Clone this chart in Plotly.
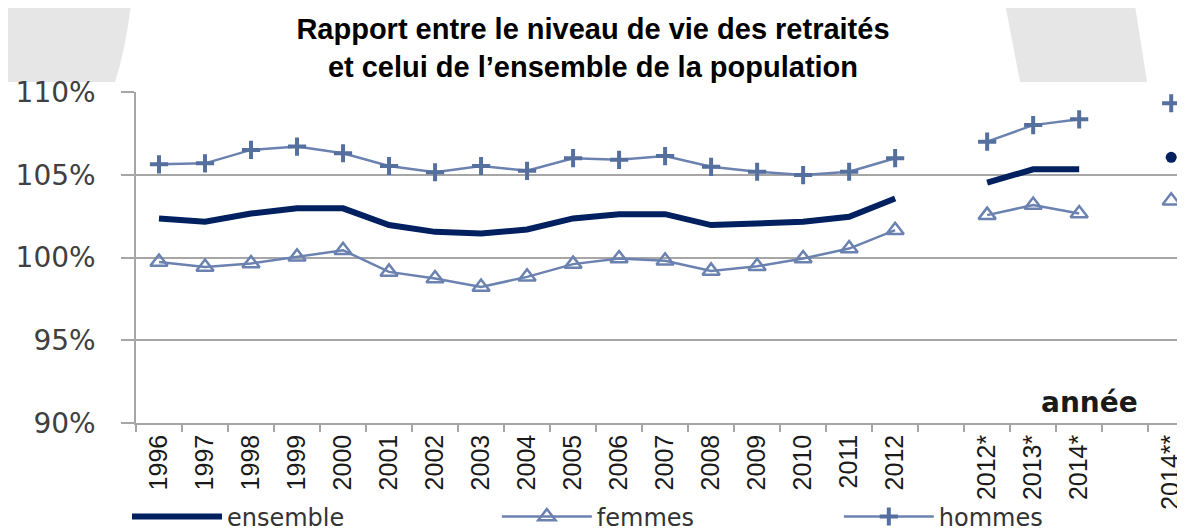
import plotly.graph_objects as go

# categories along x (empty strings are the gaps between the series blocks)
years = ["1996", "1997", "1998", "1999", "2000", "2001", "2002", "2003", "2004",
         "2005", "2006", "2007", "2008", "2009", "2010", "2011", "2012",
         "", "2012*", "2013*", "2014*", "", "2014**"]

ensemble = [102.36, 102.16, 102.66, 102.97, 102.97, 101.96, 101.55, 101.45, 101.69,
            102.36, 102.62, 102.62, 101.96, 102.06, 102.16, 102.46, 103.57,
            None, 104.52, 105.33, 105.33, None, None]
ensemble_2014bis = [None] * 22 + [106.05]
femmes = [99.73, 99.43, 99.64, 100.04, 100.44, 99.13, 98.73, 98.22, 98.83,
          99.60, 99.94, 99.80, 99.19, 99.47, 99.94, 100.54, 101.65,
          None, 102.56, 103.17, 102.66, None, 103.43]
hommes = [105.63, 105.69, 106.50, 106.70, 106.30, 105.53, 105.15, 105.53, 105.24,
          106.00, 105.90, 106.13, 105.48, 105.18, 104.98, 105.18, 106.00,
          None, 107.00, 108.00, 108.35, None, 109.32]

y_ticks = [90, 95, 100, 105, 110]
y_labels = [f"{v}%" for v in y_ticks]

xpos = list(range(len(years)))

NAVY = "#002060"
BLUE = "#6b82b0"
BLUE2 = "#55709f"
GRID = "#a6a6a6"

fig = go.Figure()
fig.add_trace(go.Scatter(
    x=xpos, y=ensemble, name="ensemble", mode="lines", legend="legend",
    line=dict(color=NAVY, width=6), connectgaps=False
))
fig.add_trace(go.Scatter(
    x=xpos, y=ensemble_2014bis, name="ensemble", mode="markers", showlegend=False,
    marker=dict(color=NAVY, size=11, symbol="circle")
))
fig.add_trace(go.Scatter(
    x=xpos, y=femmes, name="femmes", mode="lines+markers", legend="legend2",
    line=dict(color=BLUE, width=2.5), connectgaps=False,
    marker=dict(symbol="triangle-up-open", size=15, color=BLUE, line=dict(width=2.5, color=BLUE))
))
fig.add_trace(go.Scatter(
    x=xpos, y=hommes, name="hommes", mode="lines+markers", legend="legend3",
    line=dict(color=BLUE, width=2.5), connectgaps=False,
    marker=dict(symbol="cross-thin", size=13, color=BLUE2, line=dict(width=4, color=BLUE2))
))

# grey watermark pieces behind the title
fig.add_shape(type="path", xref="paper", yref="paper", layer="below",
              path="M -0.15 1.3 L -0.0038 1.3 Q -0.008 1.15 -0.02 1.03 L -0.15 1.03 Z",
              fillcolor="#e6e6e6", line=dict(width=0))
fig.add_shape(type="path", xref="paper", yref="paper", layer="below",
              path="M 0.8265 1.3 L 0.9504 1.3 L 0.9638 1.03 L 0.8427 1.03 Z",
              fillcolor="#e6e6e6", line=dict(width=0))

fig.add_annotation(
    text="<b>année</b>", x=0.909, y=0.063, xref="paper", yref="paper",
    xanchor="center", yanchor="middle",
    showarrow=False, font=dict(family="DejaVu Sans", size=28, color="#1a1a1a")
)

leg_common = dict(
    orientation="h", xanchor="left", yref="container", y=0.027, yanchor="middle",
    font=dict(family="DejaVu Sans", size=24, color="#333333"),
    itemwidth=90, bgcolor="rgba(0,0,0,0)"
)

fig.update_layout(
    title=dict(
        text="<b>Rapport entre le niveau de vie des retraités<br>et celui de l’ensemble de la population</b>",
        x=0.497, xref="container", xanchor="center",
        y=0.9407, yref="container", yanchor="top",
        font=dict(family="Liberation Sans", size=29, color="black")
    ),
    width=1177, height=523,
    margin=dict(l=128, r=0, t=84, b=108),
    plot_bgcolor="white", paper_bgcolor="white",
    showlegend=True,
    legend=dict(x=-0.0086, **leg_common),
    legend2=dict(x=0.344, **leg_common),
    legend3=dict(x=0.670, **leg_common),
    xaxis=dict(
        range=[-0.5, 22.3], tickmode="array", tickvals=xpos, ticktext=years,
        tickangle=-90, ticks="", showgrid=False, zeroline=False, automargin=False,
        showline=True, linecolor=GRID, linewidth=1.5,
        tickfont=dict(family="Liberation Sans", size=25, color="#1a1a1a"),
        minor=dict(tickmode="linear", tick0=0.5, dtick=1, ticks="outside",
                   ticklen=7, tickcolor=GRID, tickwidth=1.5, showgrid=False)
    ),
    yaxis=dict(
        range=[90, 110], tickmode="array", tickvals=y_ticks, ticktext=y_labels,
        showgrid=True, gridcolor=GRID, gridwidth=1.5, zeroline=False, automargin=False,
        showline=True, linecolor=GRID, linewidth=1.5,
        ticks="outside", ticklen=13, tickcolor=GRID, tickwidth=1.5,
        ticklabelstandoff=20,
        tickfont=dict(family="DejaVu Sans", size=28, color="#404040")
    ),
)

fig.write_html("out.html")
